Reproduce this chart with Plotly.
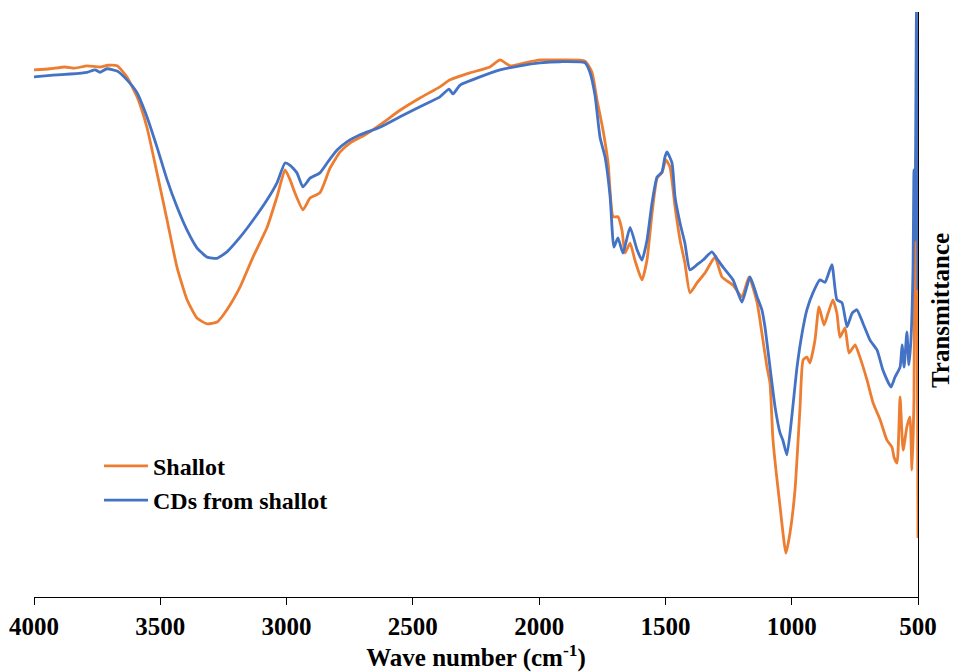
import plotly.graph_objects as go

# FTIR spectra: wave number (cm-1) and transmittance (arbitrary %T scale)
shallot_wn = [4000, 3937, 3877, 3838, 3790, 3739, 3707, 3671, 3632, 3592, 3553, 3513,
              3473, 3434, 3394, 3355, 3315, 3275, 3236, 3184, 3133, 3077, 3038, 3006,
              2986, 2967, 2935, 2907, 2868, 2828, 2788, 2749, 2689, 2630, 2551, 2472,
              2393, 2353, 2274, 2195, 2155, 2115, 2076, 1997, 1917, 1818, 1791, 1771,
              1747, 1727, 1707, 1688, 1672, 1660, 1640, 1621, 1593, 1573, 1553, 1533,
              1514, 1498, 1482, 1462, 1442, 1423, 1403, 1375, 1343, 1304, 1276, 1232,
              1197, 1169, 1137, 1118, 1098, 1086, 1074, 1046, 1023, 1007, 987, 967,
              955, 940, 928, 908, 892, 872, 856, 837, 821, 809, 789, 773, 749, 730,
              702, 678, 650, 623, 603, 595, 583, 571, 559, 544, 532, 524, 516, 512,
              506, 500]
shallot_t = [90.1, 90.3, 90.6, 90.4, 90.8, 90.6, 90.9, 90.8, 88.9, 85.5, 80.3, 72.5,
             64.4, 56.4, 50.8, 47.7, 46.7, 47.0, 49.1, 53.0, 58.1, 63.2, 68.4, 73.0,
             71.3, 69.1, 66.2, 68.2, 69.1, 73.3, 76.1, 77.6, 79.0, 80.7, 83.2, 85.3,
             87.2, 88.4, 89.6, 90.6, 91.8, 90.8, 91.1, 91.8, 91.8, 91.6, 89.7, 85.0,
             79.8, 74.2, 65.0, 65.0, 62.7, 58.8, 60.5, 57.6, 54.2, 57.6, 65.6, 71.6,
             72.5, 74.7, 73.5, 66.7, 61.0, 57.1, 52.0, 53.7, 55.4, 58.1, 54.7, 53.3,
             51.3, 54.7, 50.3, 45.1, 39.3, 36.6, 26.8, 15.4, 7.5, 10.9, 18.3, 32.5,
             40.5, 41.0, 40.0, 43.9, 49.6, 46.5, 48.5, 50.8, 48.5, 44.4, 46.0, 41.7,
             43.1, 41.0, 37.1, 33.2, 30.3, 26.8, 25.6, 23.9, 22.9, 34.2, 25.1, 29.1,
             30.8, 21.7, 33.7, 65.0, 79.8, 10.1]

cds_wn = [4000, 3925, 3857, 3790, 3758, 3739, 3711, 3671, 3632, 3592, 3553, 3513,
          3473, 3434, 3394, 3355, 3315, 3275, 3236, 3184, 3133, 3077, 3038, 3006,
          2986, 2959, 2935, 2907, 2868, 2836, 2800, 2761, 2709, 2630, 2551, 2472,
          2393, 2357, 2341, 2313, 2234, 2155, 2076, 1997, 1917, 1818, 1799, 1779,
          1759, 1739, 1719, 1704, 1688, 1668, 1640, 1612, 1593, 1573, 1553, 1533,
          1514, 1502, 1494, 1474, 1462, 1442, 1423, 1403, 1375, 1351, 1316, 1292,
          1272, 1232, 1197, 1165, 1137, 1118, 1106, 1086, 1066, 1046, 1035, 1019,
          999, 979, 959, 940, 916, 888, 868, 841, 821, 801, 781, 761, 742, 718,
          690, 662, 639, 607, 591, 571, 563, 555, 544, 536, 528, 520, 516, 512,
          506, 500]
cds_t = [88.9, 89.2, 89.4, 89.7, 90.1, 89.7, 90.3, 89.9, 88.4, 86.2, 82.1, 76.9,
         71.3, 66.7, 62.7, 59.7, 58.1, 57.9, 59.0, 61.5, 64.4, 67.9, 70.8, 74.2,
         73.8, 72.5, 70.1, 71.6, 72.5, 74.4, 76.4, 77.8, 79.0, 80.3, 82.1, 83.8,
         85.5, 86.8, 86.0, 87.5, 88.9, 90.1, 90.8, 91.3, 91.5, 91.3, 89.7, 85.8,
         78.6, 75.2, 68.4, 59.8, 61.4, 58.8, 63.2, 59.3, 57.6, 61.0, 67.4, 71.8,
         72.6, 75.2, 76.1, 74.2, 68.4, 63.9, 60.5, 55.9, 56.8, 57.6, 59.0, 57.6,
         56.4, 54.2, 50.4, 54.7, 51.3, 49.1, 46.2, 39.3, 32.5, 28.0, 26.8, 24.3,
         31.1, 39.3, 45.1, 49.1, 52.0, 54.2, 53.8, 56.8, 50.8, 50.3, 46.2, 48.5,
         49.1, 46.8, 43.9, 42.2, 38.8, 35.9, 37.6, 39.3, 43.1, 39.3, 45.3, 39.7,
         43.9, 55.4, 73.0, 61.0, 100.0, 52.5]

x_ticks = [4000, 3500, 3000, 2500, 2000, 1500, 1000, 500]

ORANGE = "#ED7D31"
BLUE = "#4472C4"
SERIF = "Liberation Serif"

fig = go.Figure()
fig.add_trace(go.Scatter(x=shallot_wn, y=shallot_t, mode="lines", name="Shallot",
                         line=dict(color=ORANGE, width=2.8, shape="spline", smoothing=0.5)))
fig.add_trace(go.Scatter(x=cds_wn, y=cds_t, mode="lines", name="CDs from shallot",
                         line=dict(color=BLUE, width=2.8, shape="spline", smoothing=0.5)))

fig.update_layout(
    width=954, height=672,
    margin=dict(l=34, r=36, t=12, b=75),
    paper_bgcolor="white", plot_bgcolor="white",
    font=dict(family=SERIF, color="black", weight="bold"),
    showlegend=True,
    legend=dict(x=0.0735, y=0.262, xanchor="left", yanchor="top",
                itemwidth=44, tracegroupgap=0,
                bgcolor="rgba(0,0,0,0)", borderwidth=0,
                font=dict(family=SERIF, size=24, color="black", weight="bold")),
    xaxis=dict(
        range=[4000, 500], tickvals=x_ticks, ticktext=[str(v) for v in x_ticks],
        ticks="outside", ticklen=7, tickwidth=1, tickcolor="black",
        showline=True, linecolor="black", linewidth=1, showgrid=False, zeroline=False,
        automargin=False,
        tickfont=dict(family=SERIF, size=25, color="black", weight="bold"),
        title=dict(text="Wave number (cm<sup>-1</sup>)", standoff=13,
                   font=dict(family=SERIF, size=25, color="black", weight="bold")),
    ),
    yaxis=dict(
        range=[0, 100], side="right", showline=True, linecolor="black", linewidth=1,
        showticklabels=False, ticks="", showgrid=False, zeroline=False,
        automargin=False,
    ),
    annotations=[dict(
        text="Transmittance", textangle=-90, showarrow=False,
        xref="paper", yref="paper", x=1.026, y=0.4906,
        xanchor="center", yanchor="middle",
        font=dict(family=SERIF, size=25, color="black", weight="bold"),
    )],
)

fig.write_html("out.html")
